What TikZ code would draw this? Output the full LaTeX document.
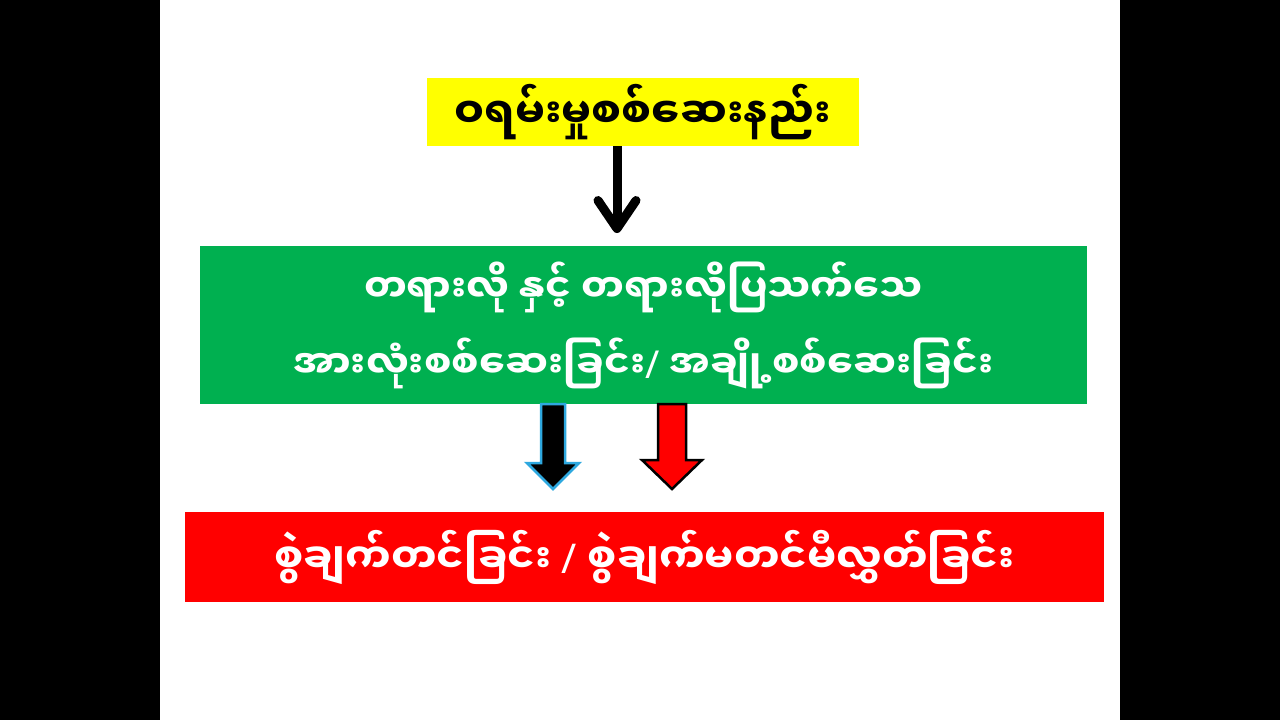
\documentclass[tikz,border=0pt]{standalone}
\usepackage{fontspec}
\usetikzlibrary{arrows.meta}
\newfontfamily\mmfont[Script=Myanmar]{Noto Sans Myanmar UI}
\newfontfamily\latinfont{Noto Sans}
\definecolor{slidegreen}{HTML}{00B050}
\definecolor{slidered}{HTML}{FF0000}
\definecolor{slideyellow}{HTML}{FFFF00}
\definecolor{arrowblue}{HTML}{2EA8DF}
\newcommand{\sep}{{\latinfont\bfseries /}}
\tikzset{
  box/.style={inner sep=0pt, outer sep=0pt, align=center},
  blockdown/.style={line width=2.5, line join=miter},
}
\begin{document}
\begin{tikzpicture}[x=1pt,y=-1pt]
        \fill[black] (0,0) rectangle (1280,720);
        \fill[white] (160,0) rectangle (1120,720);
        \useasboundingbox (0,0) rectangle (1280,720);

        \node[box, fill=slideyellow, minimum width=432, minimum height=68,
              font=\mmfont\bfseries\fontsize{42}{50}\selectfont] (title) at (643,112) {ဝရမ်းမှုစစ်ဆေးနည်း};
        \node[box, fill=slidegreen, text=white, minimum width=887, minimum height=158,
              font=\mmfont\bfseries\fontsize{38.5}{76}\selectfont] (check) at (643.5,325)
              {\raisebox{-4pt}{တရားလို နှင့် တရားလိုပြသက်သေ}\\\raisebox{-4pt}{အားလုံးစစ်ဆေးခြင်း\sep{} အချို့စစ်ဆေးခြင်း}};
        \node[box, fill=slidered, text=white, minimum width=919, minimum height=90,
              font=\mmfont\bfseries\fontsize{41}{50}\selectfont] (charge) at (644.5,557)
              {စွဲချက်တင်ခြင်း \sep{} စွဲချက်မတင်မီလွှတ်ခြင်း};

        \draw[line width=9, -{Straight Barb[length=28, width=38, round]}]
              ([xshift=-26pt]title.south) -- ([xshift=-26.5pt, yshift=13pt]check.north);

        % down arrows
        \draw[blockdown, draw=arrowblue, fill=black] (541,404) -- (565,404) -- (565,463) -- (579,463)
              -- (553,489) -- (527,463) -- (541,463) -- cycle;
        \draw[blockdown, draw=black, fill=slidered] (658,404) -- (686,404) -- (686,460) -- (702,460)
              -- (672,489) -- (642,460) -- (658,460) -- cycle;
\end{tikzpicture}
\end{document}
